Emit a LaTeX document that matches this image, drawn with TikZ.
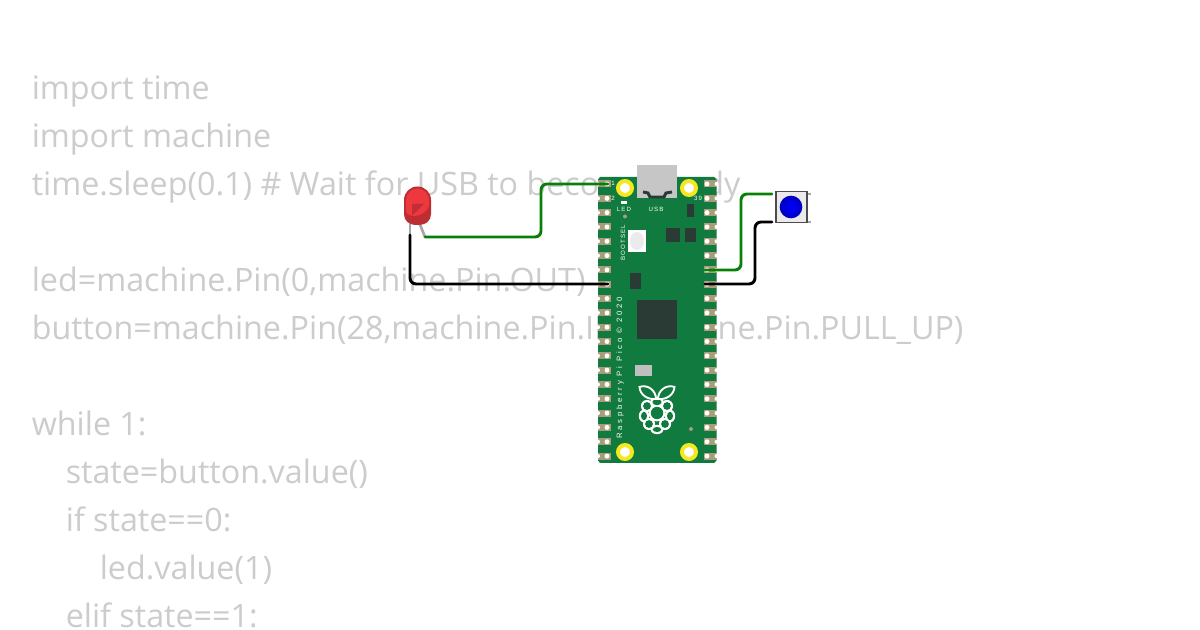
\documentclass[tikz,border=0pt]{standalone}
\usepackage{fontspec}
\setmainfont{Open Sans}
\newfontfamily\silkfont[LetterSpace=18]{Liberation Sans}
\newfontfamily\silkwide[LetterSpace=36]{Liberation Sans}
\definecolor{codegray}{RGB}{204,204,204}
\definecolor{boardgreen}{RGB}{17,122,62}
\definecolor{padtan}{RGB}{168,156,122}
\definecolor{ringyellow}{RGB}{245,232,30}
\definecolor{chipdark}{RGB}{42,58,52}
\definecolor{wiregreen}{RGB}{8,128,8}
\definecolor{usbgray}{RGB}{198,198,198}
\definecolor{ledred}{RGB}{236,56,62}
\tikzset{
    codeline/.style={anchor=base west, inner sep=0pt, text=codegray, font=\fontsize{24.2}{24}\selectfont},
    silk/.style={text=white, inner sep=0pt, font=\silkfont\fontsize{4.6}{5}\selectfont},
    wirelink/.style={line width=2.2pt, rounded corners=4.5pt, line cap=round},
    lead/.style={line width=2pt, color=black!35},
    chip/.style={fill=chipdark},
    ring/.style={circle, fill=white, draw=ringyellow, line width=3pt, minimum size=10.5pt, inner sep=0pt}
}
\begin{document}
\begin{tikzpicture}[x=0.75pt,y=-0.75pt]
    \useasboundingbox (0,0) rectangle (1200,630);
    \fill[white] (0,0) rectangle (1200,630);

    % Code behind the circuit
    \node[codeline] (l1) at (31.5,100) {import time};
    \node[codeline] (l2) at (31.5,148) {import machine};
    \node[codeline] (l3) at (31.5,196) {time.sleep(0.1) \# Wait for USB to become ready};
    \node[codeline] (l4) at (31.5,292) {led=machine.Pin(0,machine.Pin.OUT)};
    \node[codeline] (l5) at (31.5,340) {button=machine.Pin(28,machine.Pin.IN,machine.Pin.PULL\_UP)};
    \node[codeline] (l6) at (31.5,436) {while 1:};
    \node[codeline] (l7) at (65.5,484) {state=button.value()};
    \node[codeline] (l8) at (65.5,532) {if state==0:};
    \node[codeline] (l9) at (99.5,580) {led.value(1)};
    \node[codeline] (l10) at (65.5,628) {elif state==1:};

    % Board
    \fill[boardgreen] (600,177) -- (714,177) -- (716.5,179.5) -- (716.5,460.5) -- (714,463)
        -- (600,463) -- (598,460.5) -- (598,179.5) -- cycle;

    % Pads
    \foreach \i in {0,...,19} {
        \pgfmathsetmacro{\py}{184+14.32*\i}
        \fill[padtan] (598,\py-3.5) rectangle (610.5,\py+3.5);
        \fill[padtan] (704,\py-3.5) rectangle (716.5,\py+3.5);
        \fill[white] (607,\py) circle (2.5);
        \fill[white] (707,\py) circle (2.5);
        \fill[white] (598,\py) circle (2);
        \fill[white] (716.5,\py) circle (2);
    }

    % Mounting holes
    \node[ring] (h1) at (625,188) {};
    \node[ring] (h2) at (689,188) {};
    \node[ring] (h3) at (625,452) {};
    \node[ring] (h4) at (689,452) {};

    % USB socket
    \fill[usbgray] (637,165) rectangle (677,198);
    \draw[chipdark, line width=2.2pt] (643,192) -- (648,193) -- (650,197) -- (664,197) -- (666,193) -- (672,192);

    % Parts on the board
    \fill[white] (621,201) rectangle (627,204);
    \fill[padtan] (625,216.5) circle (2);
    \fill[white] (628,230) rectangle (646,252);
    \fill[black!8] (637,241) ellipse (7 and 9);
    \fill[chip] (666,228) rectangle (680,242);
    \fill[chip] (685,228) rectangle (696,242);
    \fill[chip] (687,204) rectangle (694,217);
    \fill[chip] (630,273) rectangle (641,289);
    \fill[chip] (637,300) rectangle (677,339.5);
    \fill[black!25] (635,365) rectangle (652,376);
    \fill[padtan] (691,429) circle (2);

    % Logo
    \foreach \bx/\by/\ra/\rb in {657/402/4.6/3.2,647/406/3.9/3.9,667/406/3.9/3.9,657/413/6.2/6.2,644/416/3/4.2,670/416/3/4.2,649/424/3.9/3.9,665/424/3.9/3.9,657/429.5/4.2/2.5}
        \fill[white] (\bx,\by) ellipse [x radius=\ra+2.2, y radius=\rb+2.2];
    \foreach \bx/\by/\ra/\rb in {657/402/4.6/3.2,647/406/3.9/3.9,667/406/3.9/3.9,657/413/6.2/6.2,644/416/3/4.2,670/416/3/4.2,649/424/3.9/3.9,665/424/3.9/3.9,657/429.5/4.2/2.5}
        \fill[boardgreen] (\bx,\by) ellipse [x radius=\ra, y radius=\rb];
    \draw[white, line width=1.4pt, fill=boardgreen] (639.5,387) .. controls (647,384) and (656,390) .. (656,399)
        .. controls (648,400) and (640,395) .. cycle;
    \draw[white, line width=1.4pt, fill=boardgreen] (674.5,387) .. controls (667,384) and (658,390) .. (658,399)
        .. controls (666,400) and (674,395) .. cycle;

    % Silkscreen
    \node[silk] (s1) at (613,183.5) {1};
    \node[silk] (s2) at (613,198) {2};
    \node[silk] (s39) at (698,198) {39};
    \node[silk] (sled) at (624,209) {LED};
    \node[silk] (susb) at (656,209) {USB};
    \node[silk, rotate=90] (sboot) at (623,243) {BOOTSEL};
    \node[silk, rotate=90, font=\silkwide\fontsize{5.8}{6}\selectfont] (sname) at (620,368) {Raspberry Pi Pico © 2020};

    % LED
    \coordinate (ledk) at (410,235);
    \coordinate (leda) at (425,237);
    \draw[lead] (410,222) -- (ledk);
    \draw[lead] (419,222) -- (leda);
    \fill[ledred!80!black] (404,214) -- (404,200) arc (180:360:13.5) -- (431,214)
        .. controls (431,221) and (426,225) .. (417,225) .. controls (409,225) and (404,221) .. (404,214) -- cycle;
    \fill[ledred] (406,212) -- (406,200) arc (180:360:11.5) -- (429,206)
        .. controls (426,215) and (411,220) .. (406,212) -- cycle;
    \fill[ledred!82!black] (412,204) -- (424,204) -- (412,216) -- cycle;

    % Push button
    \coordinate (btna) at (772,194);
    \coordinate (btnb) at (772,222);
    \draw[lead, line width=1.5pt] (806,194) -- (811,194) (806,222) -- (811,222);
    \node[draw=black!70, fill=black!8, line width=1.2pt, minimum size=23.5pt, inner sep=0pt] (btn) at (791.5,207) {};
    \node[circle, inner color=blue, outer color=blue!75!black, minimum size=17pt, inner sep=0pt] (cap) at (791,207) {};

    % Wires
    \coordinate (gp0) at (608,184);
    \coordinate (gnd1) at (608,284);
    \coordinate (gp28) at (705,270);
    \coordinate (gnd2) at (705,284);
    \draw[wirelink, wiregreen] (leda) -- (541,237) -- (541,184) -- (gp0);
    \draw[wirelink, black] (ledk) -- (410,284) -- (gnd1);
    \draw[wirelink, wiregreen] (gp28) -- (741,270) -- (741,194) -- (btna);
    \draw[wirelink, black] (gnd2) -- (755,284) -- (755,222) -- (btnb);
\end{tikzpicture}
\end{document}
